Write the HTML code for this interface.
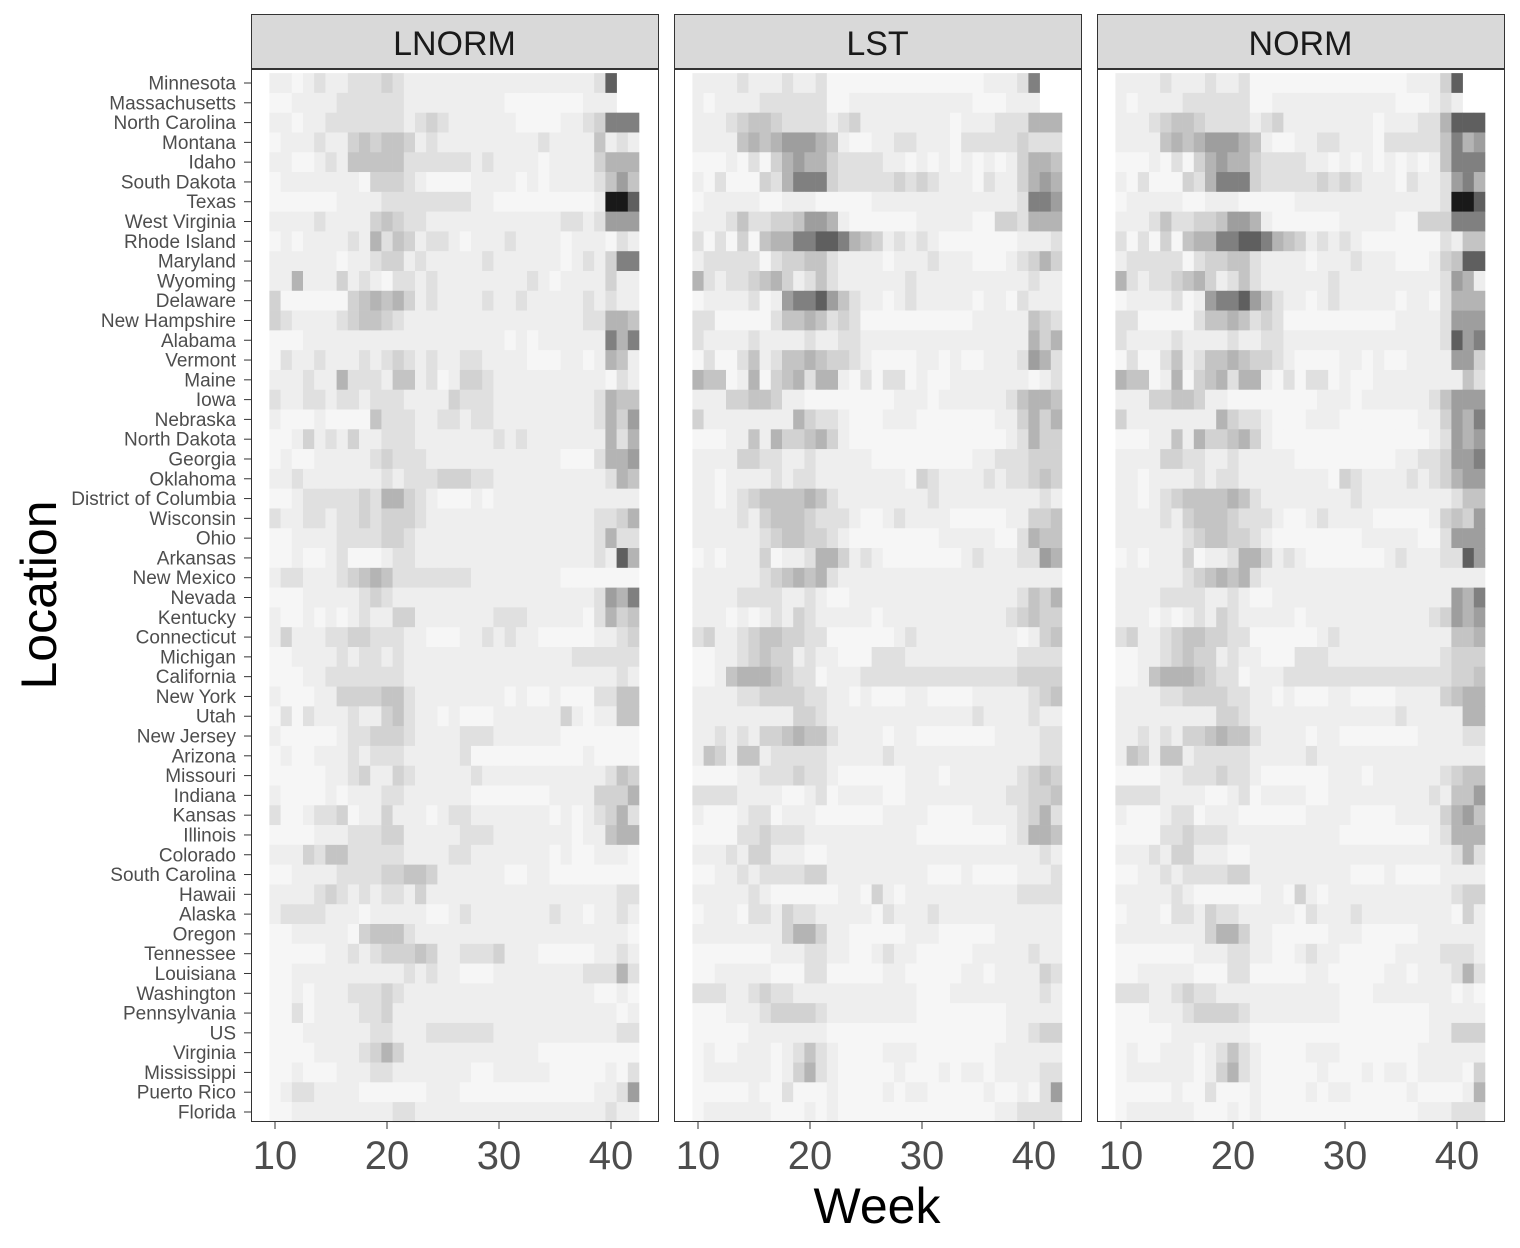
<!DOCTYPE html>
<html><head><meta charset="utf-8">
<style>
html,body{margin:0;padding:0;background:#fff;}
svg{display:block;font-family:"Liberation Sans",Arial,sans-serif;}
</style></head>
<body>
<svg id="chart" width="1520" height="1248" viewBox="0 0 1520 1248"></svg>
<script>
const locations = ["Minnesota","Massachusetts","North Carolina","Montana","Idaho","South Dakota","Texas","West Virginia","Rhode Island","Maryland","Wyoming","Delaware","New Hampshire","Alabama","Vermont","Maine","Iowa","Nebraska","North Dakota","Georgia","Oklahoma","District of Columbia","Wisconsin","Ohio","Arkansas","New Mexico","Nevada","Kentucky","Connecticut","Michigan","California","New York","Utah","New Jersey","Arizona","Missouri","Indiana","Kansas","Illinois","Colorado","South Carolina","Hawaii","Alaska","Oregon","Tennessee","Louisiana","Washington","Pennsylvania","US","Virginia","Mississippi","Puerto Rico","Florida"];
const weeks = [10,11,12,13,14,15,16,17,18,19,20,21,22,23,24,25,26,27,28,29,30,31,32,33,34,35,36,37,38,39,40,41,42];
const panels = ["LNORM","LST","NORM"];
const xTicks = [10,20,30,40];
// intensity level 0 (light) .. 9 (dark) per week; '.' = no data
const lnormValues = [
"1101211222 3211111111 1111111112 8..","0011112222 2211111111 1000000011 1..","1101122222 2212321111 1100001123 777","0111211343 4431211111 1111211114 121","1100121444 4422222212 1111011113 555","0111111103 3321000011 1101011112 464","0000001111 2222222211 0000000001 998","1111211113 4322111111 1111112212 666","0101111215 2431221011 1211110111 021","1111110112 3312111112 1111110121 377","1151113121 0221211111 1112101111 311","3000000345 4531211112 1121111121 211","3211112344 3211111111 1111111122 554","0001111111 1111111111 1010111111 757","0211211121 2321211221 1110001101 541","1112115222 1441201332 1111111111 021","2112212212 2211113222 1111111112 544","1000100004 2221122122 1111111112 536","0013121311 2221111111 2121111111 525","0100111112 3222111111 1111110002 556","1121111111 2122233322 1111111111 254","0012222232 5532100010 1111111111 111","2112212232 3332111111 1111111112 235","0011112222 3321111111 1111111112 522","0010012000 1221111111 1111111112 185","1221112345 4222222211 1111110000 000","0001111123 2111111111 1111111112 657","1001010121 1331111111 2221111102 534","1311122332 2211000112 1211000001 123","0011112122 1211111111 1111111222 222","0001122222 2211111111 1111111111 121","1000113333 4421111111 1010010002 244","0202111211 3421101000 1111113101 144","1000001223 3321111222 1111110000 000","0100111212 2211111200 0000000010 000","0000011231 1321111121 1111111111 243","1000010111 2211111100 0000011113 335","2001223011 3111012211 1111101012 352","0000111222 3311111222 1111111011 455","1113244222 2211112211 1111101001 110","0011112222 3344311111 1001100000 000","1111232121 2213111111 1111111111 122","1222211101 1111001211 1111121101 121","0011111034 4421111111 1111111111 110","0000011212 3334311222 3111000001 121","0011111111 1121211000 1111111122 252","0010111222 3211111111 1111111110 010","0020111122 3111111111 1111111111 101","0001111112 2111222222 1111111111 122","0000111123 5311111111 1111000000 000","0010001112 2111111100 1111100000 102","0122111100 0000111000 0000000001 126","0011111111 1221111111 1111111111 211"];
const lstValues = [
"1111211121 1200000000 0000001112 7..","1011112222 2200111111 1111100011 1..","1112344322 2212311111 1110111222 555","1111454566 6541001122 1110222223 222","0001020356 5532222110 1010101013 554","1020003257 7732222232 3211102113 565","0111110011 1000001111 1111111112 776","1112422334 6651000000 1111100332 555","2020304557 7887543121 2100000001 112","1222220233 4421111011 1211100012 353","5212234531 2421111112 1111111111 211","0111120167 7864211012 1111101102 111","2200000244 5423200000 0000011111 432","2111121111 2112211111 1111111111 535","0200241244 5433210000 1101001112 652","5440150345 2551020220 1001111111 012","1113344311 0000000011 1011111124 554","3111111115 3221000111 0000000113 535","0001141533 4531000000 0000000012 533","1111332211 2111110000 0000011222 333","1101111212 2111111110 3211112122 343","1101234444 5421111111 1211111111 121","1111213444 3222100121 1110000011 334","1111112344 3321000000 0011111002 544","0101113011 2553121000 0000121112 265","1111112345 4521111111 1111111111 111","1111222211 2100111111 1111111112 435","1110101213 2111110111 1111111123 433","2311234433 2200000012 1111111110 134","0011234331 2110002221 1111111112 222","0014555432 2011122222 2222222223 333","1111223333 2211010001 1000011111 234","1111111113 3211111111 1111121111 211","1121213345 4421111011 0000000111 122","1431441222 2211111211 1111111111 122","0000112223 2210000001 1101111112 343","2222111100 1201111001 1111111122 334","1000122011 1000000111 1000011112 352","0000223222 1111111111 0000000012 554","1112133111 0011111111 1111111111 121","0011212222 3311111111 1000100001 112","1111121000 0001103101 1111111112 222","0111022132 2111110211 1211111111 111","1111111135 5311000001 1100000111 111","0000000111 2211001211 0000011111 211","0011111000 2200000110 0000110111 132","2221123221 1111111111 0001111111 121","0001112333 3211111111 0000000011 111","0000011111 1100000000 0000000011 233","0100111012 4210000111 0000000111 111","0111111013 5210000010 0010110111 122","0000010020 0010000101 1000001001 026","0111111000 1010000000 0000000112 222"];
const normValues = [
"1111211121 1200000000 0000001113 8..","1011112222 2200111111 1111100012 1..","1112344322 2212311111 1110111225 888","1111454566 6541001122 1110222224 756","0001020356 5532222110 1010101014 777","1020003257 7732222232 3211102112 675","0111110011 1000001111 1111111112 998","1112422334 6651000000 1111100333 777","2020304557 7887543121 2100000002 144","1222220233 4421111011 1211100013 488","5212234531 2421111112 1111111112 651","0111120167 7864211012 1111101102 555","2200000244 5423200000 0000011112 666","2111121111 2112211111 1111111112 867","0200241244 5433210000 1101001111 663","5440150345 2551020220 1001111111 142","1113344311 0000000011 1011111124 666","3111111115 3221000111 0000000113 657","0001141533 4531000000 0000000012 656","1111332211 2111110000 0000011223 667","1101111212 2111111110 3211112123 566","1101234444 5421111111 1211111111 244","1111213444 3222100121 1110000013 436","1111112344 3321000000 0011111002 666","0101113011 2553121000 0000121112 286","1111112345 4521111111 1111111111 111","1111222211 2100111111 1111111111 657","1110101213 2111110111 1111111123 656","2311234433 2200000012 1111111111 445","0011234331 2110002221 1111111112 333","0014555432 2011122222 2222222222 334","1111223333 2211010001 1000011113 455","1111111113 3211111111 1111121111 155","1121213345 4421111011 0000000111 122","1431441222 2211111211 1111111111 111","0000112223 2210000001 1101111112 344","2222111100 1201111001 1111111121 446","1000122011 1000000111 1000011113 564","0000223222 1111111111 0000000012 555","1112133111 0011111111 1111111111 252","0011212222 3311111111 1000100001 111","1111121000 0001103101 1111111111 233","0111022132 2111110211 1211111111 031","1111111135 5311000001 1100000111 111","0000000111 2211001211 0000011112 221","0011111000 2200000110 0000110111 252","2221123221 1111111111 0001111111 010","0001112333 3211111111 0000000011 111","0000011111 1100000000 0000000011 333","0100111012 4210000111 0000000111 111","0111111013 5210000010 0010110111 103","0000010020 0010000101 1000001000 015","0111111000 1010000000 0000000111 222"];

const NS = "http://www.w3.org/2000/svg";
const svg = document.getElementById("chart");
function mk(tag, attrs, parent){ const e=document.createElementNS(NS,tag); for(const k in attrs) e.setAttribute(k,attrs[k]); (parent||svg).appendChild(e); return e; }
const grays = [246,238,224,210,196,180,158,128,95,25];
const panelLeft = [251,674,1097];
const panelW = 407, plotTop = 69, plotBottom = 1121;
const rowStep = (1112-83)/52;
const weekStep = 11.2;
function xScale(p, w){ return panelLeft[p] + 24 + (w - 10) * weekStep; }
function yScale(i){ return 83 + i * rowStep; }
const allData = [lnormValues, lstValues, normValues];

panels.forEach((name, p) => {
  const g = mk("g", {});
  
  
  const strip = mk("rect", {x:panelLeft[p]+0.5, y:14.5, width:panelW, height:54, fill:"#d9d9d9", stroke:"#333", "stroke-width":1}, g);
  
  
  const st = mk("text", {x:panelLeft[p]+panelW/2, y:55, "text-anchor":"middle", "font-size":34, fill:"#1a1a1a"}, g);
  st.textContent = name;
  
  
  const rows = allData[p];
  rows.forEach((rowStr, i) => {
    const vals = rowStr.replace(/ /g, "");
    weeks.forEach((w, j) => {
      const ch = vals[j];
      if (ch === undefined || ch === ".") return;
      const v = grays[+ch];
      const c = mk("rect", {x:(xScale(p,w)-weekStep/2).toFixed(2), y:(yScale(i)-rowStep/2).toFixed(2), width:(weekStep+0.3).toFixed(2), height:(rowStep+0.3).toFixed(2), fill:`rgb(${v},${v},${v})`}, g);
      
      
    });
  });
  const border = mk("rect", {x:panelLeft[p]+0.5, y:plotTop+0.5, width:panelW, height:plotBottom-plotTop, fill:"none", stroke:"#333", "stroke-width":1}, g);
  
  
  xTicks.forEach(t => {
    const x = xScale(p, t);
    const tk = mk("line", {x1:x, x2:x, y1:plotBottom+1, y2:plotBottom+8, stroke:"#333", "stroke-width":1}, g);
    
    
    const tl = mk("text", {x:x, y:1169, "text-anchor":"middle", "font-size":40, fill:"#4d4d4d"}, g);
    tl.textContent = t;
    
    
  });
});

locations.forEach((loc, i) => {
  const y = yScale(i);
  const tk = mk("line", {x1:244, x2:251, y1:y, y2:y, stroke:"#333", "stroke-width":1});
  
  
  const tl = mk("text", {x:236, y:y+6.5, "text-anchor":"end", "font-size":19, fill:"#4d4d4d"});
  tl.textContent = loc;
  
  
});

const yt = mk("text", {x:0, y:0, transform:"translate(56,595) rotate(-90)", "text-anchor":"middle", "font-size":50, fill:"#000"});
yt.textContent = "Location";


const xt = mk("text", {x:877, y:1223, "text-anchor":"middle", "font-size":50, fill:"#000"});
xt.textContent = "Week";


</script>
</body></html>
